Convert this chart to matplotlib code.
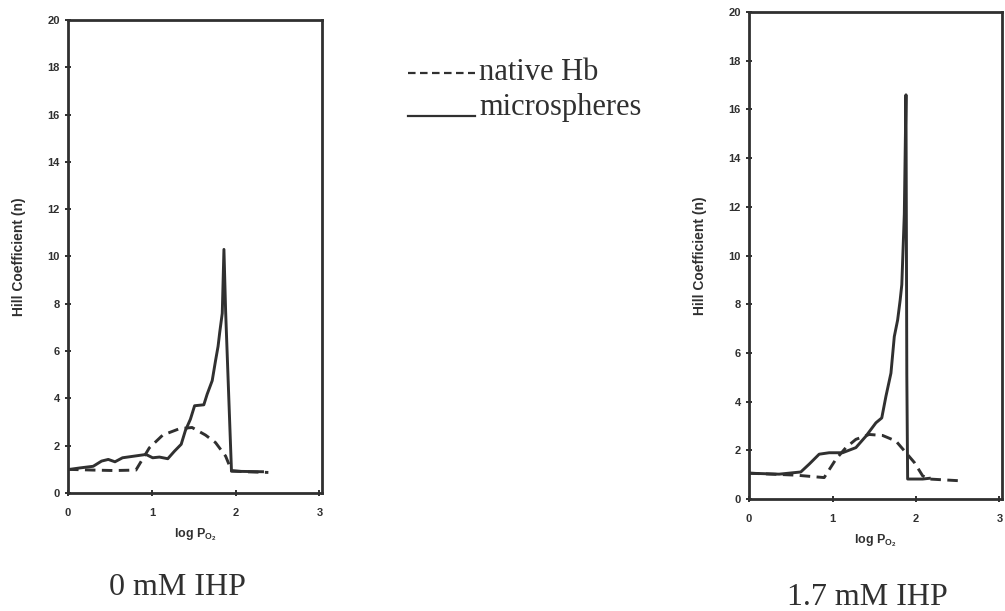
import matplotlib
matplotlib.use('Agg')
import matplotlib.pyplot as plt
from matplotlib.lines import Line2D

# 0 mM IHP
x_native_0 = [0.0, 0.3, 0.55, 0.81, 0.97, 1.13, 1.33, 1.48, 1.64, 1.76, 1.88, 1.95, 2.1, 2.39]
y_native_0 = [1.0, 0.97, 0.95, 0.97, 1.91, 2.45, 2.72, 2.77, 2.45, 2.13, 1.56, 0.95, 0.9, 0.87]
x_micro_0 = [0.0, 0.14, 0.30, 0.40, 0.48, 0.56, 0.65, 0.79, 0.93, 1.01, 1.09, 1.19, 1.27, 1.35,
             1.40, 1.46, 1.51, 1.62, 1.66, 1.72, 1.76, 1.79, 1.81, 1.84, 1.86, 1.88, 1.95, 2.32]
y_micro_0 = [0.99, 1.06, 1.13, 1.35, 1.42, 1.32, 1.49, 1.56, 1.63, 1.49, 1.52, 1.45, 1.77, 2.06,
             2.64, 3.12, 3.69, 3.73, 4.18, 4.75, 5.6, 6.2, 6.8, 7.6, 10.3, 7.7, 0.92, 0.9]

# 1.7 mM IHP
x_native_17 = [0.0, 0.56, 0.90, 1.04, 1.16, 1.28, 1.44, 1.60, 1.76, 1.88, 1.98, 2.08, 2.16, 2.52]
y_native_17 = [1.06, 0.98, 0.88, 1.63, 2.11, 2.45, 2.65, 2.61, 2.38, 1.90, 1.50, 0.95, 0.82, 0.75]
x_micro_17 = [0.0, 0.36, 0.62, 0.72, 0.84, 0.96, 1.12, 1.28, 1.40, 1.52, 1.59, 1.64, 1.70, 1.74,
              1.78, 1.81, 1.83, 1.86, 1.88, 1.89, 1.90, 2.08, 2.16]
y_micro_17 = [1.06, 1.02, 1.11, 1.43, 1.84, 1.90, 1.90, 2.11, 2.58, 3.13, 3.33, 4.22, 5.17, 6.67,
              7.35, 8.16, 8.8, 11.7, 16.6, 5.1, 0.82, 0.82, 0.85]

panels = [
    ([0.0677, 0.1931, 0.2527, 0.7742], x_native_0, y_native_0, x_micro_0, y_micro_0, 3.03),
    ([0.7453, 0.1833, 0.2517, 0.7970], x_native_17, y_native_17, x_micro_17, y_micro_17, 3.03),
]
captions = [("0 mM IHP", 177, 595), ("1.7 mM IHP", 867, 605)]

ink = '#303030'
plt.rcParams['mathtext.fontset'] = 'custom'
plt.rcParams['mathtext.rm'] = 'Liberation Sans:bold'
plt.rcParams['mathtext.it'] = 'Liberation Sans:bold'

fig = plt.figure(figsize=(10.05, 6.11), dpi=100)
W, H = 1005.0, 611.0

for pos, xn, yn, xm, ym, xmax in panels:
    ax = fig.add_axes(pos)
    ax.plot(xn, yn, color=ink, lw=2.1, dashes=(3.6, 2.2))
    ax.plot(xm, ym, color=ink, lw=2.1)
    ax.set_xlim(0, xmax)
    ax.set_ylim(0, 20)
    ax.set_xticks([0, 1, 2, 3])
    ax.set_yticks(range(0, 21, 2))
    for s in ax.spines.values():
        s.set_linewidth(2.0)
        s.set_color(ink)
    ax.tick_params(direction='inout', length=4, width=1.4, color=ink)
    ax.tick_params(axis='x', pad=9)
    ax.tick_params(axis='y', pad=4)
    for lab in ax.get_xticklabels() + ax.get_yticklabels():
        lab.set_fontfamily('Liberation Sans')
        lab.set_fontweight('bold')
        lab.set_fontsize(8)
        lab.set_color(ink)
    ax.set_ylabel('Hill Coefficient (n)', fontsize=10, fontweight='bold',
                  family='Liberation Sans', color=ink, labelpad=15)
    ax.set_xlabel(r'log P$_{\mathrm{O_2}}$', fontsize=9, fontweight='bold',
                  family='Liberation Sans', color=ink, labelpad=6)

for txt, cx, cy in captions:
    fig.text(cx / W, 1 - cy / H, txt, ha='center', va='baseline',
             family='Liberation Serif', fontsize=23, color=ink)

# legend
fig.add_artist(Line2D([408 / W, 475 / W], [1 - 73 / H, 1 - 73 / H], color=ink, lw=1.6, dashes=(3.4, 2)))
fig.add_artist(Line2D([408 / W, 475 / W], [1 - 116 / H, 1 - 116 / H], color=ink, lw=1.6))
fig.text(479 / W, 1 - 80 / H, 'native Hb', ha='left', va='baseline',
         family='Liberation Serif', fontsize=22, color=ink)
fig.text(479 / W, 1 - 115 / H, 'microspheres', ha='left', va='baseline',
         family='Liberation Serif', fontsize=22, color=ink)

fig.savefig('out.png', dpi=100, facecolor='white')
